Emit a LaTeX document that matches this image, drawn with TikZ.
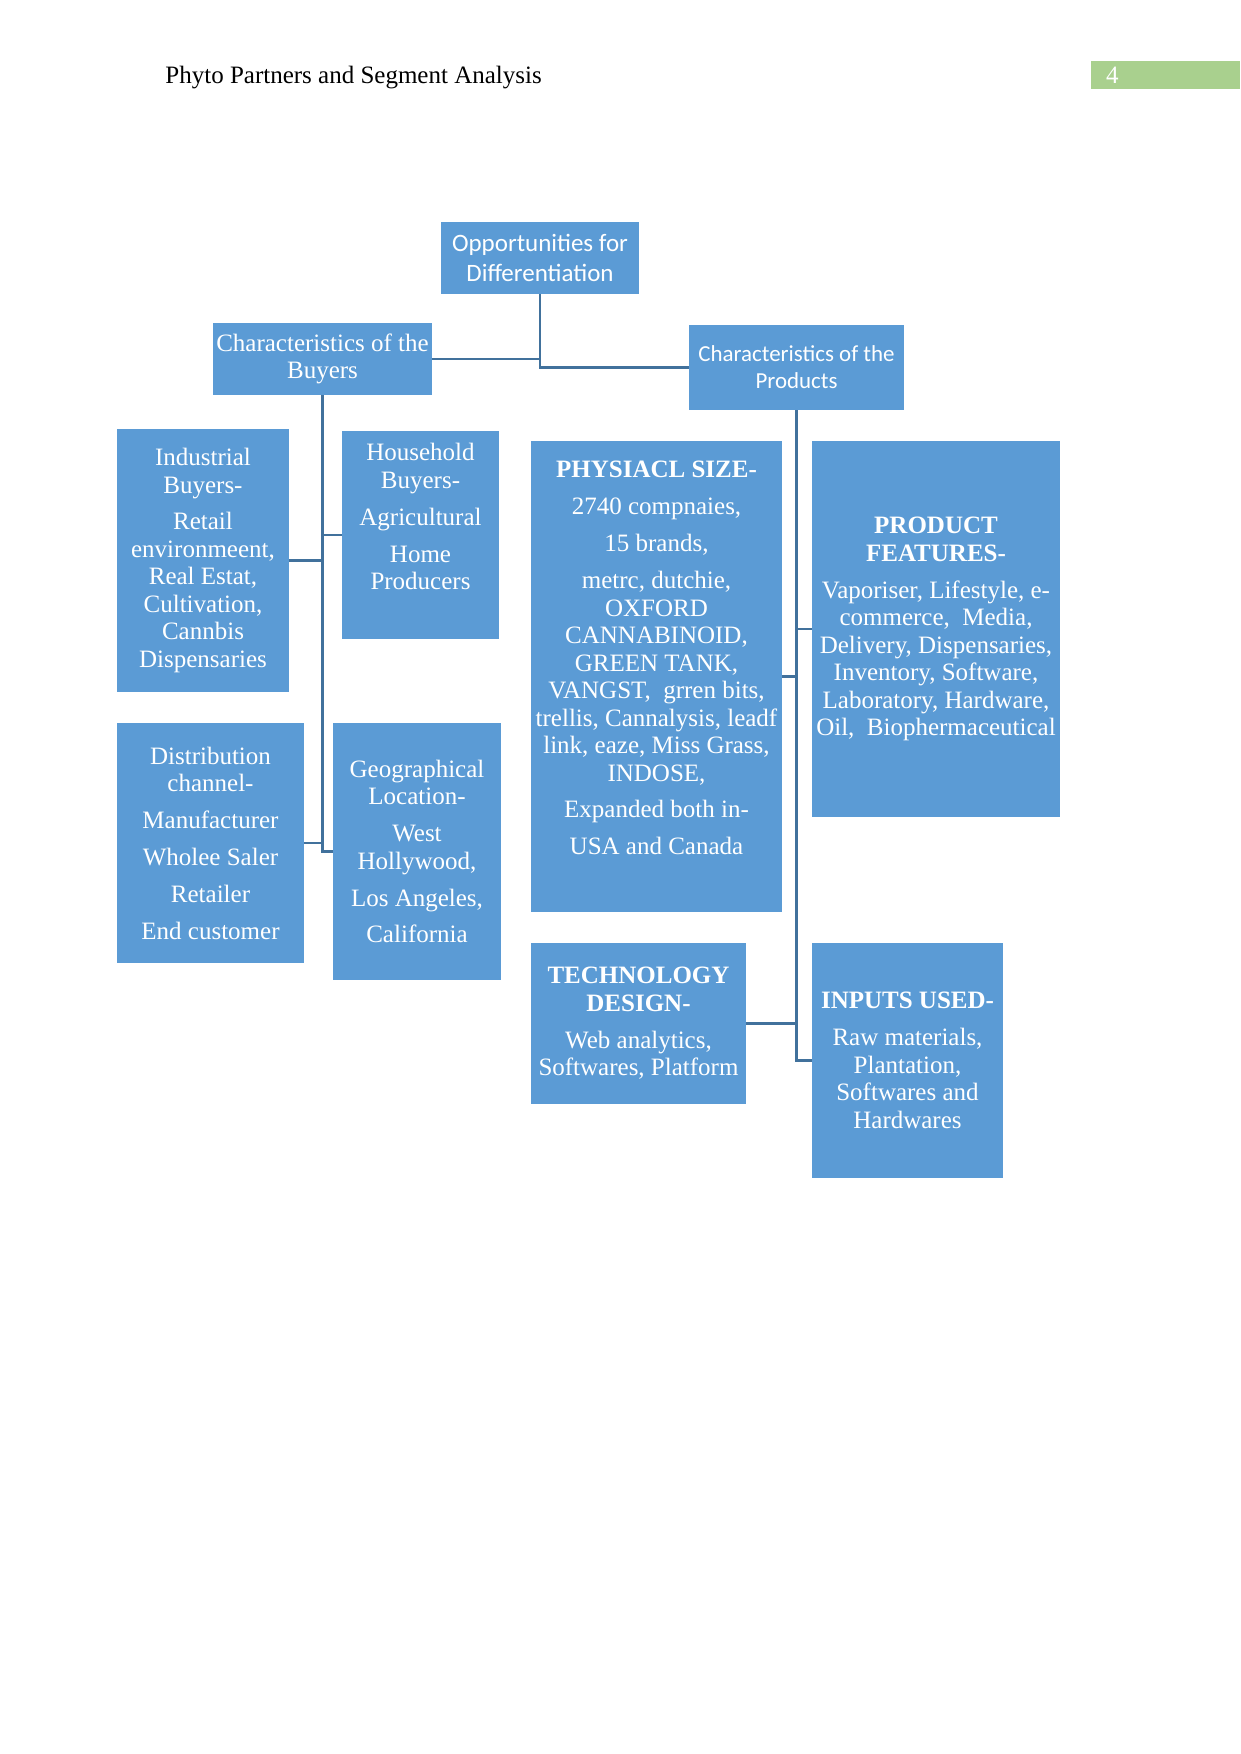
\documentclass[tikz,border=0pt]{standalone}
\usepackage{fontspec}
\setmainfont{Liberation Serif}
\newfontfamily\carlito{Carlito}
\usepackage{tikz}
\definecolor{boxblue}{RGB}{91,155,213}
\definecolor{linkblue}{RGB}{65,113,156}
\definecolor{pagegreen}{RGB}{169,208,142}
\tikzset{
  basebox/.style={rectangle,fill=boxblue,text=white,inner sep=0pt,align=center,font=\fontsize{12}{13.2}\selectfont},
  sansbox/.style={basebox,font=\carlito\fontsize{12}{14.2}\selectfont},
  smallsans/.style={basebox,font=\carlito\fontsize{11}{13}\selectfont},
  link/.style={draw=linkblue,line width=1.2pt},
  headtext/.style={font=\fontsize{12}{14}\selectfont,inner sep=0pt}
}

\begin{document}
\begin{tikzpicture}[x=0.48pt,y=-0.48pt]
  \useasboundingbox[fill=white] (0,0) rectangle (1241,1754);

  %% page header
  \node[headtext,anchor=base west] (title) at (165,83) {Phyto Partners and Segment Analysis};
  \node[headtext,fill=pagegreen,text=white,anchor=north west,minimum height=13.2pt,
        text width=57.5pt,inner xsep=7pt,align=left] (pagenum) at (1091,61) {4};

  %% top level
  \node[sansbox,minimum width=95pt,minimum height=34.6pt] (opp) at (540,258) {Opportunities for\\Differentiation};
  \node[basebox,minimum width=105.1pt,minimum height=34.6pt] (buyers) at (322.5,359) {Characteristics of the\\Buyers};
  \node[smallsans,minimum width=103.2pt,minimum height=40.8pt] (products) at (796.5,367.5) {Characteristics of the\\Products};

  %% buyers branch
  \node[basebox,minimum width=82.6pt,minimum height=126.2pt] (industrial) at (203,560.5) {Industrial\\Buyers-\\[4.5pt]Retail\\environmeent,\\Real Estat,\\Cultivation,\\Cannbis\\Dispensaries};
  \node[basebox,minimum width=75.4pt,minimum height=99.8pt] (household) at (420.5,535) {Household\\Buyers-\\[4.5pt]Agricultural\\[4.5pt]Home\\Producers\\[4.5pt]\mbox{}};
  \node[basebox,minimum width=89.8pt,minimum height=115.2pt] (distribution) at (210.5,843) {Distribution\\channel-\\[4.5pt]Manufacturer\\[4.5pt]Wholee Saler\\[4.5pt]Retailer\\[4.5pt]End customer};
  \node[basebox,minimum width=80.6pt,minimum height=123.4pt] (geo) at (417,851.5) {Geographical\\Location-\\[4.5pt]West\\Hollywood,\\[4.5pt]Los Angeles,\\[4.5pt]California};

  %% products branch
  \node[basebox,minimum width=120.5pt,minimum height=226.1pt] (physical) at (656.5,676.5) {\textbf{PHYSIACL SIZE-}\\[4.5pt]2740 compnaies,\\[4.5pt]15 brands,\\[4.5pt]metrc, dutchie,\\OXFORD\\CANNABINOID,\\GREEN TANK,\\VANGST,\ \ grren bits,\\trellis, Cannalysis, leadf\\link, eaze, Miss Grass,\\INDOSE,\\[4.5pt]Expanded both in-\\[4.5pt]USA and Canada\\[4.5pt]\mbox{}};
  \node[basebox,minimum width=119pt,minimum height=180.5pt] (features) at (936,629) {\textbf{PRODUCT}\\\textbf{FEATURES-}\\[4.5pt]Vaporiser, Lifestyle, e-\\commerce,\ \ Media,\\Delivery, Dispensaries,\\Inventory, Software,\\Laboratory, Hardware,\\Oil,\ \ Biophermaceutical};
  \node[basebox,minimum width=103.2pt,minimum height=77.3pt] (tech) at (638.5,1023.5) {\textbf{TECHNOLOGY}\\\textbf{DESIGN-}\\[4.5pt]Web analytics,\\Softwares, Platform};
  \node[basebox,minimum width=91.7pt,minimum height=112.8pt] (inputs) at (907.5,1060.5) {\textbf{INPUTS USED-}\\[4.5pt]Raw materials,\\Plantation,\\Softwares and\\Hardwares};

  %% connectors
  \draw[link] (opp.south) |- (products.west);
  \draw[link] (buyers.east) -- (buyers.east -| opp.south);
  \draw[link] (buyers.south) |- (geo.west);
  \draw[link] (industrial.east) -- (industrial.east -| buyers.south);
  \draw[link] (household.west) -- (household.west -| buyers.south);
  \draw[link] (distribution.east) -- (distribution.east -| buyers.south);
  \draw[link] (products.south) |- (inputs.west);
  \draw[link] (physical.east) -- (physical.east -| products.south);
  \draw[link] (features.west) -- (features.west -| products.south);
  \draw[link] (tech.east) -- (tech.east -| products.south);
\end{tikzpicture}
\end{document}
